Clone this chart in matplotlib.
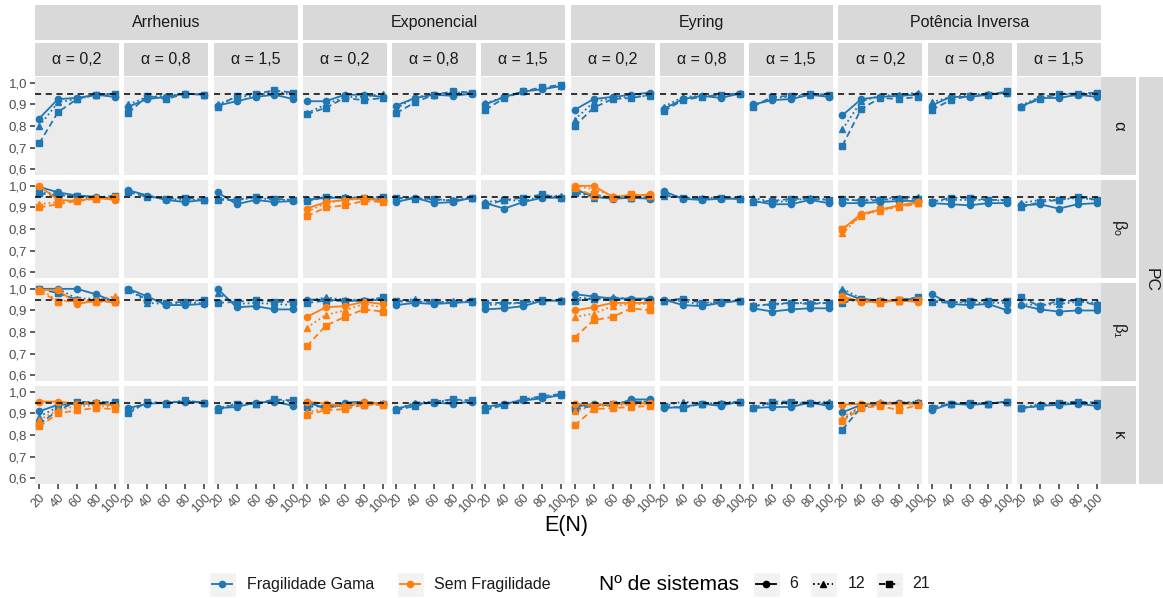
import numpy as np
import matplotlib.pyplot as plt
from matplotlib.lines import Line2D
from matplotlib.patches import Rectangle

plt.rcParams['font.family'] = ['Liberation Sans', 'DejaVu Sans']

modelos = ['Arrhenius', 'Exponencial', 'Eyring', 'Potência Inversa']
alfas = ['0,2', '0,8', '1,5']
parametros = ['α', 'β₀', 'β₁', 'κ']
E_N = [20, 40, 60, 80, 100]
n_sistemas = [6, 12, 21]

# probabilidade de cobertura, modelo com fragilidade gama
# [modelo][alfa][n_sistemas][E(N)]
gama_alpha = [
    [[[0.835, 0.925, 0.93, 0.945, 0.935], [0.80, 0.91, 0.925, 0.945, 0.945], [0.72, 0.865, 0.925, 0.945, 0.95]],
     [[0.89, 0.925, 0.935, 0.95, 0.945], [0.90, 0.935, 0.94, 0.95, 0.945], [0.86, 0.94, 0.925, 0.95, 0.945]],
     [[0.895, 0.915, 0.935, 0.945, 0.925], [0.90, 0.935, 0.94, 0.96, 0.945], [0.89, 0.94, 0.95, 0.965, 0.955]]],
    [[[0.915, 0.915, 0.945, 0.945, 0.935], [0.86, 0.90, 0.935, 0.935, 0.95], [0.855, 0.885, 0.93, 0.92, 0.93]],
     [[0.895, 0.93, 0.945, 0.94, 0.95], [0.88, 0.935, 0.945, 0.955, 0.955], [0.86, 0.91, 0.945, 0.96, 0.955]],
     [[0.90, 0.935, 0.96, 0.97, 0.985], [0.905, 0.935, 0.96, 0.975, 0.985], [0.875, 0.93, 0.96, 0.98, 0.99]]],
    [[[0.875, 0.925, 0.935, 0.945, 0.955], [0.83, 0.91, 0.93, 0.935, 0.94], [0.80, 0.885, 0.925, 0.93, 0.945]],
     [[0.88, 0.925, 0.94, 0.93, 0.95], [0.89, 0.935, 0.94, 0.94, 0.955], [0.87, 0.92, 0.935, 0.945, 0.95]],
     [[0.90, 0.92, 0.925, 0.945, 0.935], [0.895, 0.93, 0.935, 0.945, 0.94], [0.89, 0.935, 0.94, 0.95, 0.945]]],
    [[[0.85, 0.925, 0.935, 0.94, 0.945], [0.785, 0.915, 0.94, 0.945, 0.955], [0.71, 0.88, 0.93, 0.925, 0.935]],
     [[0.895, 0.935, 0.935, 0.945, 0.955], [0.91, 0.935, 0.945, 0.95, 0.955], [0.875, 0.92, 0.94, 0.945, 0.96]],
     [[0.89, 0.93, 0.93, 0.945, 0.935], [0.895, 0.935, 0.945, 0.95, 0.945], [0.89, 0.925, 0.95, 0.95, 0.955]]],
]

gama_beta0 = [
    [[[0.995, 0.97, 0.955, 0.95, 0.94], [0.97, 0.965, 0.95, 0.945, 0.945], [0.965, 0.955, 0.955, 0.945, 0.955]],
     [[0.98, 0.955, 0.935, 0.925, 0.935], [0.975, 0.955, 0.94, 0.935, 0.935], [0.97, 0.95, 0.94, 0.945, 0.935]],
     [[0.97, 0.915, 0.935, 0.925, 0.93], [0.94, 0.935, 0.945, 0.935, 0.935], [0.935, 0.935, 0.95, 0.94, 0.935]]],
    [[[0.935, 0.945, 0.945, 0.94, 0.935], [0.935, 0.945, 0.95, 0.945, 0.94], [0.93, 0.95, 0.945, 0.945, 0.95]],
     [[0.925, 0.945, 0.92, 0.925, 0.945], [0.94, 0.945, 0.935, 0.935, 0.945], [0.945, 0.94, 0.94, 0.93, 0.945]],
     [[0.92, 0.895, 0.925, 0.945, 0.945], [0.925, 0.935, 0.93, 0.95, 0.955], [0.91, 0.935, 0.945, 0.96, 0.945]]],
    [[[0.985, 0.95, 0.94, 0.945, 0.94], [0.975, 0.945, 0.945, 0.945, 0.95], [0.965, 0.96, 0.945, 0.945, 0.945]],
     [[0.975, 0.94, 0.935, 0.94, 0.94], [0.955, 0.945, 0.945, 0.945, 0.945], [0.96, 0.945, 0.94, 0.945, 0.94]],
     [[0.93, 0.915, 0.915, 0.935, 0.92], [0.945, 0.925, 0.93, 0.945, 0.935], [0.925, 0.93, 0.94, 0.94, 0.935]]],
    [[[0.92, 0.92, 0.925, 0.93, 0.93], [0.935, 0.935, 0.94, 0.945, 0.95], [0.94, 0.93, 0.935, 0.94, 0.94]],
     [[0.92, 0.915, 0.91, 0.92, 0.92], [0.93, 0.935, 0.935, 0.935, 0.93], [0.925, 0.945, 0.945, 0.935, 0.935]],
     [[0.91, 0.915, 0.895, 0.915, 0.92], [0.92, 0.935, 0.935, 0.945, 0.935], [0.90, 0.925, 0.935, 0.95, 0.935]]],
]

gama_beta1 = [
    [[[1.0, 1.0, 1.0, 0.975, 0.94], [1.0, 1.0, 0.955, 0.955, 0.95], [1.0, 0.98, 0.95, 0.945, 0.95]],
     [[1.0, 0.965, 0.925, 0.925, 0.93], [1.0, 0.935, 0.93, 0.935, 0.935], [0.995, 0.95, 0.935, 0.94, 0.95]],
     [[1.0, 0.915, 0.92, 0.905, 0.905], [0.98, 0.93, 0.935, 0.93, 0.925], [0.935, 0.94, 0.95, 0.94, 0.94]]],
    [[[0.95, 0.95, 0.945, 0.945, 0.95], [0.945, 0.96, 0.95, 0.95, 0.955], [0.935, 0.945, 0.945, 0.945, 0.96]],
     [[0.925, 0.935, 0.93, 0.935, 0.94], [0.935, 0.955, 0.935, 0.945, 0.94], [0.945, 0.94, 0.94, 0.935, 0.945]],
     [[0.905, 0.91, 0.92, 0.945, 0.945], [0.925, 0.93, 0.935, 0.945, 0.95], [0.935, 0.935, 0.935, 0.95, 0.945]]],
    [[[0.975, 0.965, 0.955, 0.955, 0.955], [0.96, 0.955, 0.96, 0.955, 0.95], [0.945, 0.955, 0.95, 0.95, 0.945]],
     [[0.95, 0.925, 0.92, 0.935, 0.945], [0.945, 0.945, 0.925, 0.94, 0.945], [0.945, 0.955, 0.935, 0.94, 0.945]],
     [[0.91, 0.895, 0.905, 0.91, 0.91], [0.925, 0.925, 0.935, 0.935, 0.935], [0.92, 0.93, 0.935, 0.93, 0.935]]],
    [[[0.985, 0.95, 0.94, 0.95, 0.955], [1.0, 0.955, 0.945, 0.945, 0.95], [0.935, 0.955, 0.945, 0.95, 0.96]],
     [[0.975, 0.93, 0.925, 0.93, 0.90], [0.945, 0.94, 0.935, 0.935, 0.935], [0.94, 0.935, 0.945, 0.945, 0.945]],
     [[0.925, 0.905, 0.895, 0.90, 0.90], [0.93, 0.925, 0.93, 0.94, 0.935], [0.96, 0.92, 0.945, 0.945, 0.925]]],
]

gama_kappa = [
    [[[0.91, 0.94, 0.945, 0.945, 0.94], [0.885, 0.93, 0.95, 0.955, 0.95], [0.85, 0.915, 0.955, 0.95, 0.955]],
     [[0.925, 0.945, 0.95, 0.955, 0.95], [0.91, 0.95, 0.95, 0.96, 0.95], [0.90, 0.955, 0.945, 0.96, 0.95]],
     [[0.925, 0.93, 0.95, 0.955, 0.935], [0.925, 0.945, 0.945, 0.96, 0.955], [0.915, 0.945, 0.945, 0.965, 0.96]]],
    [[[0.955, 0.92, 0.95, 0.955, 0.945], [0.94, 0.935, 0.945, 0.945, 0.945], [0.93, 0.935, 0.935, 0.94, 0.945]],
     [[0.92, 0.945, 0.95, 0.945, 0.955], [0.92, 0.95, 0.955, 0.96, 0.96], [0.915, 0.935, 0.955, 0.965, 0.96]],
     [[0.93, 0.945, 0.96, 0.97, 0.985], [0.92, 0.945, 0.965, 0.975, 0.985], [0.915, 0.94, 0.965, 0.98, 0.99]]],
    [[[0.93, 0.945, 0.935, 0.965, 0.965], [0.935, 0.935, 0.945, 0.955, 0.955], [0.92, 0.935, 0.945, 0.955, 0.955]],
     [[0.925, 0.93, 0.945, 0.935, 0.955], [0.935, 0.955, 0.945, 0.95, 0.955], [0.935, 0.925, 0.945, 0.945, 0.955]],
     [[0.925, 0.93, 0.93, 0.95, 0.935], [0.93, 0.945, 0.945, 0.95, 0.955], [0.925, 0.955, 0.955, 0.95, 0.945]]],
    [[[0.905, 0.94, 0.945, 0.95, 0.945], [0.87, 0.935, 0.95, 0.95, 0.955], [0.825, 0.93, 0.945, 0.945, 0.95]],
     [[0.915, 0.945, 0.94, 0.945, 0.955], [0.93, 0.945, 0.95, 0.945, 0.955], [0.925, 0.945, 0.95, 0.945, 0.955]],
     [[0.925, 0.935, 0.94, 0.945, 0.935], [0.925, 0.945, 0.945, 0.95, 0.945], [0.925, 0.935, 0.95, 0.955, 0.95]]],
]

# modelo sem fragilidade, so ajustado para alfa = 0,2
# [modelo][n_sistemas][E(N)]
sem_beta0 = [
    [[1.0, 0.935, 0.93, 0.945, 0.935], [0.915, 0.925, 0.935, 0.945, 0.94], [0.90, 0.915, 0.93, 0.94, 0.95]],
    [[0.895, 0.925, 0.935, 0.945, 0.93], [0.88, 0.92, 0.935, 0.94, 0.935], [0.86, 0.90, 0.91, 0.93, 0.925]],
    [[1.0, 1.0, 0.95, 0.955, 0.96], [1.0, 0.985, 0.955, 0.95, 0.955], [0.99, 0.955, 0.945, 0.96, 0.955]],
    [[0.80, 0.87, 0.89, 0.91, 0.925], [0.78, 0.865, 0.885, 0.905, 0.92], [0.80, 0.86, 0.895, 0.90, 0.92]],
]

sem_beta1 = [
    [[0.995, 0.995, 0.93, 0.945, 0.94], [1.0, 0.945, 0.945, 0.95, 0.965], [0.99, 0.94, 0.945, 0.94, 0.94]],
    [[0.87, 0.915, 0.92, 0.94, 0.93], [0.82, 0.88, 0.90, 0.93, 0.915], [0.735, 0.83, 0.87, 0.905, 0.895]],
    [[0.90, 0.915, 0.935, 0.935, 0.935], [0.87, 0.885, 0.92, 0.93, 0.93], [0.775, 0.855, 0.87, 0.91, 0.90]],
    [[0.965, 0.94, 0.94, 0.945, 0.94], [0.95, 0.945, 0.95, 0.945, 0.945], [0.955, 0.945, 0.935, 0.95, 0.95]],
]

sem_kappa = [
    [[0.955, 0.955, 0.945, 0.95, 0.935], [0.87, 0.915, 0.935, 0.935, 0.93], [0.84, 0.90, 0.915, 0.925, 0.92]],
    [[0.955, 0.945, 0.935, 0.955, 0.945], [0.905, 0.925, 0.935, 0.945, 0.94], [0.895, 0.915, 0.92, 0.94, 0.94]],
    [[0.945, 0.94, 0.945, 0.945, 0.95], [0.91, 0.935, 0.935, 0.94, 0.945], [0.845, 0.92, 0.925, 0.93, 0.935]],
    [[0.94, 0.945, 0.945, 0.945, 0.945], [0.88, 0.935, 0.955, 0.94, 0.945], [0.865, 0.925, 0.935, 0.915, 0.94]],
]

gama = [gama_alpha, gama_beta0, gama_beta1, gama_kappa]
sem = [None, sem_beta0, sem_beta1, sem_kappa]

azul, laranja = '#1F77B4', '#FF7F0E'
marcadores = ['o', '^', 's']
estilos = ['-', (0, (1, 1.6)), (0, (3.5, 2))]
strip_cor = '#D9D9D9'

W, H = 1163, 598
fig = plt.figure(figsize=(W / 100, H / 100), dpi=100)


def fbox(x, y, w, h):
    # caixa em pixels (origem no topo) -> coordenadas da figura
    return [x / W, 1 - (y + h) / H, w / W, h / H]


def strip(x, y, w, h, texto, rot=0, size=11.5):
    s = fig.add_axes(fbox(x, y, w, h))
    s.set_facecolor(strip_cor)
    s.set_xticks([])
    s.set_yticks([])
    for sp in s.spines.values():
        sp.set_visible(False)
    s.text(0.5, 0.5, texto, ha='center', va='center', rotation=rot,
           fontsize=size, color='#1A1A1A', transform=s.transAxes)


x0, pw, gap = 35, 84, 5.25
y0, ph, vgap = 77, 98, 5

for i in range(len(parametros)):
    top = y0 + i * (ph + vgap)
    for m in range(len(modelos)):
        for a in range(len(alfas)):
            j = m * 3 + a
            left = x0 + j * (pw + gap)
            ax = fig.add_axes(fbox(left, top, pw, ph))
            ax.set_facecolor('#EBEBEB')
            for sp in ax.spines.values():
                sp.set_visible(False)

            for k in range(3):
                ax.plot(E_N, gama[i][m][a][k], color=azul, ls=estilos[k], lw=1.3,
                        marker=marcadores[k], ms=4.5, zorder=2)
            if sem[i] is not None and a == 0:
                for k in range(3):
                    ax.plot(E_N, sem[i][m][k], color=laranja, ls=estilos[k], lw=1.3,
                            marker=marcadores[k], ms=4.5, zorder=3)
            ax.axhline(0.95, color='black', ls=(0, (4, 3)), lw=1.1, zorder=4)

            ax.set_xlim(15.6, 104.4)
            ax.set_ylim(0.574, 1.027)
            ax.set_xticks(E_N)
            ax.set_yticks([0.6, 0.7, 0.8, 0.9, 1.0])
            ax.tick_params(length=3.5, width=1.1, color='#333333',
                           labelcolor='#4D4D4D', labelsize=9.5, pad=2)
            if j == 0:
                ax.set_yticklabels(['0,6', '0,7', '0,8', '0,9', '1,0'])
            else:
                ax.tick_params(axis='y', left=False, labelleft=False)
            if i == len(parametros) - 1:
                ax.set_xticklabels([str(v) for v in E_N], rotation=45, ha='right',
                                   rotation_mode='anchor', fontsize=9)
            else:
                ax.tick_params(axis='x', bottom=False, labelbottom=False)

            if i == 0:
                strip(left, 43, pw, 33, 'α = ' + alfas[a])

        if i == 0:
            mleft = x0 + 3 * m * (pw + gap)
            strip(mleft, 5, 3 * pw + 2 * gap, 35, modelos[m])

    strip(1101, top, 35, ph, parametros[i], rot=-90, size=12)

strip(1139, y0, 24, 4 * ph + 3 * vgap, 'PC', rot=-90, size=12.5)

fig.text(566 / W, 1 - 525 / H, 'E(N)', ha='center', va='center', fontsize=15.5)

# legenda
ly = 584


def chave(cx, cor, ls, mk):
    fig.patches.append(Rectangle(((cx - 13.5) / W, 1 - (ly + 12.5) / H), 27 / W, 25 / H,
                                 transform=fig.transFigure, facecolor='#F2F2F2',
                                 edgecolor='white', lw=1))
    fig.lines.append(Line2D([(cx - 10) / W, (cx + 10) / W], [1 - ly / H] * 2,
                            transform=fig.transFigure, color=cor, ls=ls, lw=1.3))
    fig.lines.append(Line2D([cx / W], [1 - ly / H], transform=fig.transFigure,
                            color=cor, marker=mk, ms=4.5, ls='none'))


chave(222, azul, '-', 'o')
fig.text(247 / W, 1 - ly / H, 'Fragilidade Gama', va='center', fontsize=11.5, color='#1A1A1A')
chave(410, laranja, '-', 'o')
fig.text(434 / W, 1 - ly / H, 'Sem Fragilidade', va='center', fontsize=11.5, color='#1A1A1A')
fig.text(599 / W, 1 - ly / H, 'Nº de sistemas', va='center', fontsize=15)
for cx, tx, n, k in zip([766, 823, 889], [789, 848, 912], n_sistemas, range(3)):
    chave(cx, 'black', estilos[k], marcadores[k])
    fig.text(tx / W, 1 - ly / H, str(n), va='center', fontsize=11.5, color='#1A1A1A')

fig.savefig('out.png', dpi=100)
